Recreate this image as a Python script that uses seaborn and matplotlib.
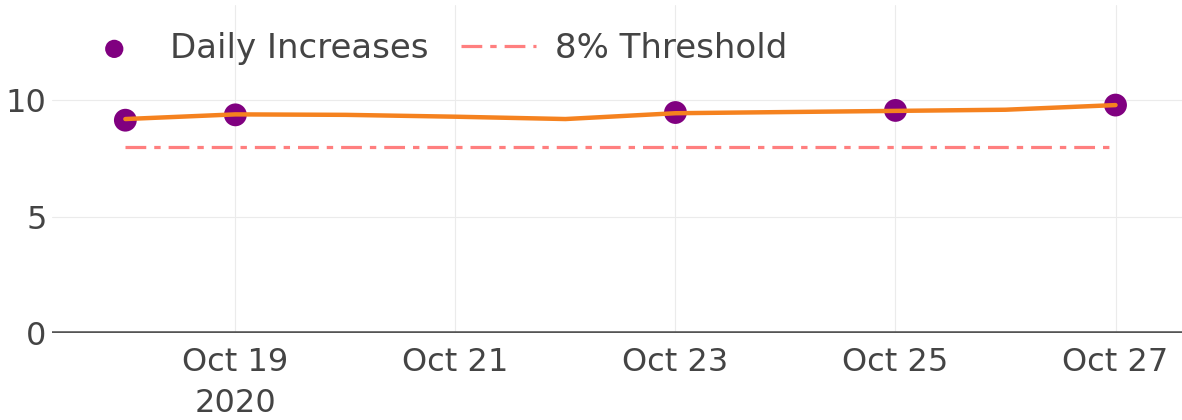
import numpy as np
import pandas as pd
import matplotlib.pyplot as plt
import seaborn as sns

# Data
point_dates = ["2020-10-18", "2020-10-19", "2020-10-23", "2020-10-25", "2020-10-27"]
point_values = [9.15, 9.38, 9.48, 9.57, 9.8]

trend_dates = ["2020-10-18", "2020-10-19", "2020-10-20", "2020-10-21", "2020-10-22",
               "2020-10-23", "2020-10-24", "2020-10-25", "2020-10-26", "2020-10-27"]
trend_values = [9.2, 9.4, 9.38, 9.3, 9.2, 9.45, 9.5, 9.55, 9.6, 9.8]

threshold_dates = ["2020-10-18", "2020-10-27"]
threshold_values = [8, 8]

tick_dates = ["2020-10-19", "2020-10-21", "2020-10-23", "2020-10-25", "2020-10-27"]
tick_labels = ["Oct 19\n2020", "Oct 21", "Oct 23", "Oct 25", "Oct 27"]

pts = pd.DataFrame({"date": pd.to_datetime(point_dates), "value": point_values})
trend = pd.DataFrame({"date": pd.to_datetime(trend_dates), "value": trend_values})
thr = pd.DataFrame({"date": pd.to_datetime(threshold_dates), "value": threshold_values})

sns.set_style("whitegrid", {"grid.color": "#ebebeb"})
plt.rcParams["font.family"] = ["DejaVu Sans"]

fig, ax = plt.subplots(figsize=(11.82, 4.2), dpi=100)
fig.subplots_adjust(left=0.044, right=1.0, bottom=0.207, top=0.988)

sns.lineplot(data=thr, x="date", y="value", ax=ax, color="#ff7f7f",
             lw=2.3, label="8% Threshold")
ax.lines[-1].set_dashes([6.5, 2.5, 2, 2.5])
sns.lineplot(data=trend, x="date", y="value", ax=ax, color="#f5821f", lw=3.2,
             legend=False, zorder=4)
sns.scatterplot(data=pts, x="date", y="value", ax=ax, color="#800080", s=270,
                edgecolor="none", label="Daily Increases", zorder=3)

ax.axhline(0, color="#555555", lw=2.6, zorder=2)

ax.set_xlim(pd.Timestamp("2020-10-17 08:00"), pd.Timestamp("2020-10-27 14:30"))
ax.set_ylim(0, 14.1)
ax.set_yticks([0, 5, 10])
ax.set_xticks(pd.to_datetime(tick_dates))
ax.set_xticklabels(tick_labels, linespacing=1.4)
ax.tick_params(axis="both", labelsize=23, colors="#444444", length=0)
ax.tick_params(axis="x", pad=10)
ax.tick_params(axis="y", pad=4)
ax.set_xlabel("")
ax.set_ylabel("")
for s in ax.spines.values():
    s.set_visible(False)

handles, labels = ax.get_legend_handles_labels()
order = [labels.index("Daily Increases"), labels.index("8% Threshold")]
ax.legend([handles[i] for i in order], [labels[i] for i in order],
          loc="center left", bbox_to_anchor=(0.065, 0.885), bbox_transform=fig.transFigure,
          ncol=2, frameon=False, fontsize=24.5, handlelength=2.2, handletextpad=0.55,
          columnspacing=0.95, labelcolor="#444444", markerscale=0.8,
          borderpad=0, borderaxespad=0)

fig.savefig("out.png", dpi=100, facecolor="white")
